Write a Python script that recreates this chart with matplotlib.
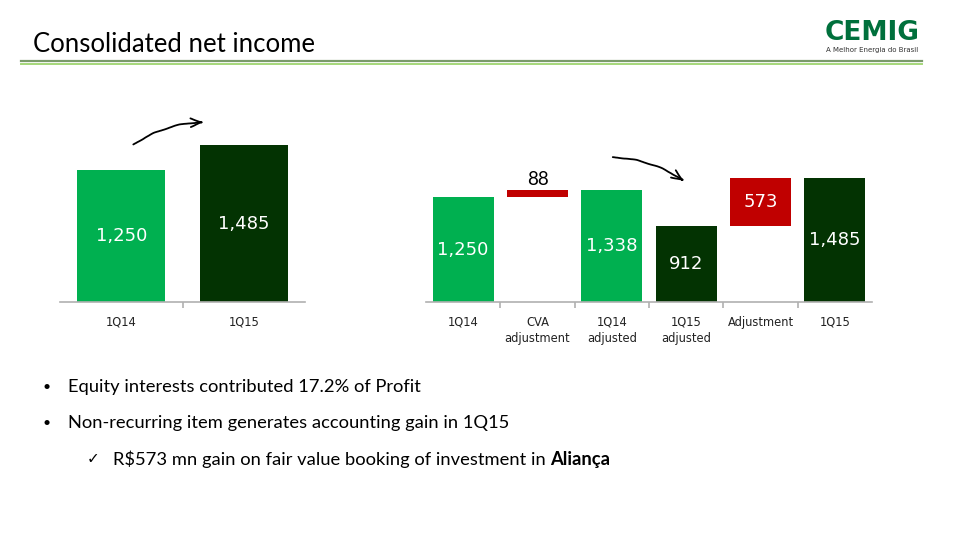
import numpy as np
import matplotlib.pyplot as plt
from matplotlib.lines import Line2D
from matplotlib.patches import FancyArrowPatch

# left chart
left_cats = ['1Q14', '1Q15']
left_vals = [1250, 1485]
left_labels = ['1,250', '1,485']

# waterfall chart
wf_cats = ['1Q14', 'CVA\nadjustment', '1Q14\nadjusted', '1Q15\nadjusted', 'Adjustment', '1Q15']
wf_bottom = [0, 1250, 0, 0, 912, 0]
wf_top = [1250, 1338, 1338, 912, 1485, 1485]
wf_labels = ['1,250', '88', '1,338', '912', '573', '1,485']
wf_kind = ['light', 'red', 'light', 'dark', 'red', 'dark']

colors = {'light': '#00b050', 'dark': '#033302', 'red': '#c00000'}
W, H = 959, 540

fig = plt.figure(figsize=(9.59, 5.4), dpi=100)


def fx(px):
    return px / W


def fy(py):
    return 1 - py / H


def style_axis(ax, n):
    for s in ['top', 'left', 'right']:
        ax.spines[s].set_visible(False)
    ax.spines['bottom'].set_color('#b0b0b0')
    ax.spines['bottom'].set_linewidth(1.2)
    ax.set_yticks([])
    ax.set_xlim(-0.5, n - 0.5)
    ax.set_xticks(np.arange(n - 1) + 0.5, minor=True)
    ax.tick_params(axis='x', which='major', length=0, pad=10, labelsize=8.3, colors='#222222')
    ax.tick_params(axis='x', which='minor', length=4, color='#b0b0b0', width=1.2)
    for lab in ax.get_xticklabels():
        lab.set_family('DejaVu Sans')


# left axes
ax1 = fig.add_axes([fx(60), fy(302), fx(245), 169 / H])
x1 = np.arange(len(left_cats))
ax1.bar(x1, left_vals, width=0.72, color=[colors['light'], colors['dark']])
ax1.set_ylim(0, 1600)
ax1.set_xticks(x1)
ax1.set_xticklabels(left_cats)
style_axis(ax1, len(left_cats))
for i, v in enumerate(left_vals):
    ax1.text(i, v / 2, left_labels[i], ha='center', va='center', color='white', fontsize=13)

# right axes (waterfall)
ax2 = fig.add_axes([fx(426), fy(302), fx(446), 134 / H])
x2 = np.arange(len(wf_cats))
heights = [t - b for t, b in zip(wf_top, wf_bottom)]
ax2.bar(x2, heights, bottom=wf_bottom, width=0.82, color=[colors[k] for k in wf_kind])
ax2.set_ylim(0, 1600)
ax2.set_xticks(x2)
ax2.set_xticklabels(wf_cats, linespacing=1.35)
style_axis(ax2, len(wf_cats))
for i in range(len(wf_cats)):
    if wf_labels[i] == '88':
        ax2.text(i, wf_top[i] + 25, wf_labels[i], ha='center', va='bottom', color='black',
                 fontsize=13.5, family='Lato')
    else:
        ax2.text(i, (wf_top[i] + wf_bottom[i]) / 2, wf_labels[i], ha='center', va='center',
                 color='white', fontsize=13)

# title and header lines
fig.text(fx(33), fy(44), 'Consolidated net income', fontsize=18.5, family='Lato', va='center')
fig.add_artist(Line2D([fx(21), fx(922)], [fy(61), fy(61)], color='#7a9a6a', lw=1.6))
fig.add_artist(Line2D([fx(21), fx(922)], [fy(63.5), fy(63.5)], color='#a5d77a', lw=1.4))

# logo
fig.text(fx(872), fy(33), 'CEMIG', fontsize=19, fontweight='bold', color='#00703c',
         ha='center', va='center', family='DejaVu Sans')
fig.text(fx(872), fy(50), 'A Melhor Energia do Brasil', fontsize=5, color='#333333',
         ha='center', va='center')

# hand drawn arrows
a1 = fig.add_artist(FancyArrowPatch(
    (fx(131), fy(146)), (fx(207), fy(122)), connectionstyle='arc3,rad=-0.15',
    arrowstyle='->,head_length=8,head_width=3', color='black', lw=1.3,
    transform=fig.transFigure))
a2 = fig.add_artist(FancyArrowPatch(
    (fx(610), fy(157)), (fx(687), fy(183)), connectionstyle='arc3,rad=-0.15',
    arrowstyle='->,head_length=8,head_width=3', color='black', lw=1.3,
    transform=fig.transFigure))
a1.set_sketch_params(0.4, 30, 2)
a2.set_sketch_params(0.4, 30, 2)

# bullets
fam = ['Lato', 'DejaVu Sans']
fs = 13.2
fig.text(fx(42), fy(387), '•', fontsize=10, va='center', family=fam)
fig.text(fx(68), fy(387), 'Equity interests contributed 17.2% of Profit', fontsize=fs,
         va='center', family=fam)
fig.text(fx(42), fy(423), '•', fontsize=10, va='center', family=fam)
fig.text(fx(68), fy(423), 'Non-recurring item generates accounting gain in 1Q15', fontsize=fs,
         va='center', family=fam)
fig.text(fx(87), fy(459), '✓', fontsize=11, va='center', family=['DejaVu Sans'])
t = fig.text(fx(113), fy(459), 'R$573 mn gain on fair value booking of investment in ',
             fontsize=fs, va='center', family=fam)
r = fig.canvas.get_renderer()
bb = t.get_window_extent(renderer=r)
fig.text(bb.x1 / fig.bbox.width, fy(459), 'Aliança', fontsize=fs, va='center',
         family=fam, fontweight='bold')

fig.savefig('out.png', dpi=100)
